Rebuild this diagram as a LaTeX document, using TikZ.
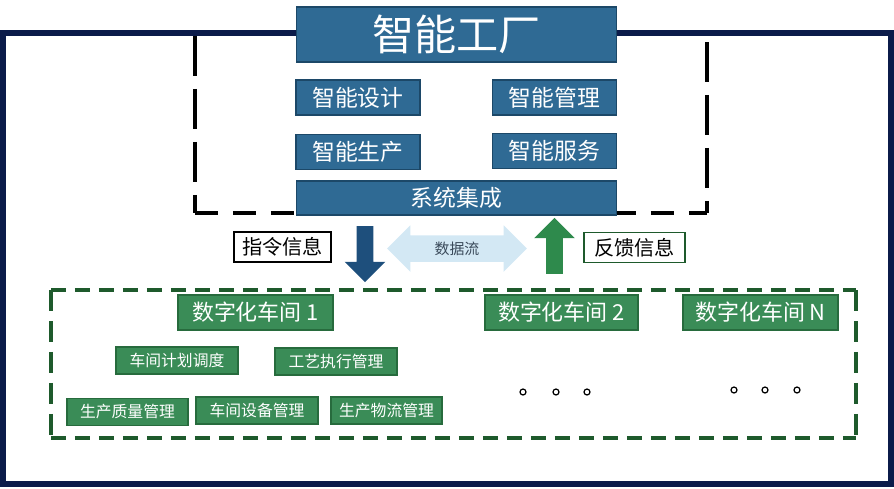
\documentclass[tikz,border=0pt]{standalone}
\usepackage{fontspec}
\setmainfont{Noto Sans CJK SC}
\usetikzlibrary{positioning}
\usetikzlibrary{shapes.arrows}
\definecolor{framenavy}{HTML}{0B1B4A}
\definecolor{boxblue}{HTML}{2F6A94}
\definecolor{boxblueline}{HTML}{1C4868}
\definecolor{boxgreen}{HTML}{3A8C57}
\definecolor{boxgreenline}{HTML}{276B3D}
\definecolor{dashgreen}{HTML}{1E5A2C}
\definecolor{arrowblue}{HTML}{1E4F7C}
\definecolor{arrowgreen}{HTML}{2E8A4C}
\definecolor{flowblue}{HTML}{D3E8F4}
\definecolor{flowtext}{HTML}{3A4A5A}
\tikzset{every node/.style={align=center, inner sep=0pt},
         bluebox/.style={ % Sets the properties for the factory blocks
           draw=boxblueline, line width=0.6pt,
           fill=boxblue, text=white},
         greenbox/.style={ % Sets the properties for the workshop blocks
           draw=boxgreenline, line width=0.6pt,
           fill=boxgreen, text=white},
         infobox/.style={ % White label next to the big arrows
           draw, line width=1pt, fill=white,
           minimum height=0.6cm, font=\fontsize{11.5}{13}\selectfont},
         bigarrow/.style={ % Single block arrow, no text
           single arrow, inner xsep=0pt, inner ysep=0.16cm,
           single arrow head extend=0.24cm, minimum height=1.12cm},
         factorydash/.style={line width=2.2pt, dash pattern=on 0.8cm off 0.26cm},
         shopdash/.style={draw=dashgreen, line width=1.8pt,
           dash pattern=on 0.3cm off 0.18cm}}

\begin{document}
\begin{tikzpicture}[x=0.02cm, y=-0.02cm]
  \useasboundingbox (0,0) rectangle (894,488);

  % outer frame
  \draw[framenavy, line width=3.4pt] (3,33) rectangle (891,484);

  % smart factory part
  \draw[factorydash] (195,36) -- (195,213);
  \draw[factorydash] (707,42) -- (707,213);
  \draw[line width=2.2pt, dash pattern=on 0.46cm off 0.3cm] (195,213) -- (707,213);

  \node [bluebox, minimum width=6.42cm, minimum height=1.1cm,
         font=\fontsize{24}{28}\selectfont] (factory) at (456.5,34.5) {智能工厂};
  \node [bluebox, minimum width=2.48cm, minimum height=0.7cm,
         font=\fontsize{13}{15}\selectfont] (design) at (358,97.5) {智能设计};
  \node [bluebox, minimum width=2.48cm, minimum height=0.7cm,
         font=\fontsize{13}{15}\selectfont] (manage) at (554.5,97.5) {智能管理};
  \node [bluebox, minimum width=2.48cm, minimum height=0.7cm,
         font=\fontsize{13}{15}\selectfont] (produce) at (358,152) {智能生产};
  \node [bluebox, minimum width=2.48cm, minimum height=0.7cm,
         font=\fontsize{13}{15}\selectfont] (service) at (554.5,151) {智能服务};
  \node [bluebox, minimum width=6.42cm, minimum height=0.68cm,
         font=\fontsize{13}{15}\selectfont] (integrate) at (456.5,198) {系统集成};

  % information flow
  \node [infobox, minimum width=1.94cm] (command) at (282.5,247) {指令信息};
  \node [bigarrow, fill=arrowblue, rotate=-90] (down) at (365,250) {};
  \node [double arrow, fill=flowblue, text=flowtext, inner xsep=0pt, inner ysep=0.12cm,
         double arrow head extend=0.2cm, minimum height=2.8cm,
         font=\fontsize{8.5}{10}\selectfont] (flow) at (457,248.5) {数据流};
  \node [bigarrow, fill=arrowgreen, rotate=90] (up) at (554.5,250) {};
  \node [infobox, draw=dashgreen, minimum width=2.02cm] (feedback) at (634.5,247.5) {反馈信息};

  % digital workshops
  \draw[shopdash] (51,290) -- (856,290);
  \draw[shopdash] (51,438) -- (856,438);
  \draw[draw=dashgreen, line width=1.8pt, dash pattern=on 0.42cm off 0.2cm]
    (51,290) -- (51,438) (856,290) -- (856,438);

  \node [greenbox, minimum width=3.1cm, minimum height=0.7cm,
         font=\fontsize{12.5}{15}\selectfont] (shopa) at (255.5,312.5) {数字化车间 1};
  \node [greenbox, minimum width=3.06cm, minimum height=0.7cm,
         font=\fontsize{12.5}{15}\selectfont] (shopb) at (561.5,312.5) {数字化车间 2};
  \node [greenbox, minimum width=3.1cm, minimum height=0.7cm,
         font=\fontsize{12.5}{15}\selectfont] (shopn) at (760.5,312.5) {数字化车间 N};

  \node [greenbox, minimum width=2.44cm, minimum height=0.54cm,
         font=\fontsize{9}{11}\selectfont] (plan) at (177,360.5) {车间计划调度};
  \node [greenbox, minimum width=2.44cm, minimum height=0.54cm,
         font=\fontsize{9}{11}\selectfont] (process) at (336,361.5) {工艺执行管理};
  \node [greenbox, minimum width=2.42cm, minimum height=0.54cm,
         font=\fontsize{9}{11}\selectfont] (quality) at (127.5,412) {生产质量管理};
  \node [greenbox, minimum width=2.44cm, minimum height=0.54cm,
         font=\fontsize{9}{11}\selectfont] (device) at (257,410.5) {车间设备管理};
  \node [greenbox, minimum width=2.22cm, minimum height=0.54cm,
         font=\fontsize{9}{11}\selectfont] (logistic) at (386.5,410.5) {生产物流管理};

  % ellipsis marks
  \foreach \px in {523,556,587}
    \draw[line width=0.7pt] (\px,392) circle (0.06cm);
  \foreach \px in {734,765,797}
    \draw[line width=0.7pt] (\px,390) circle (0.06cm);
\end{tikzpicture}
\end{document}
